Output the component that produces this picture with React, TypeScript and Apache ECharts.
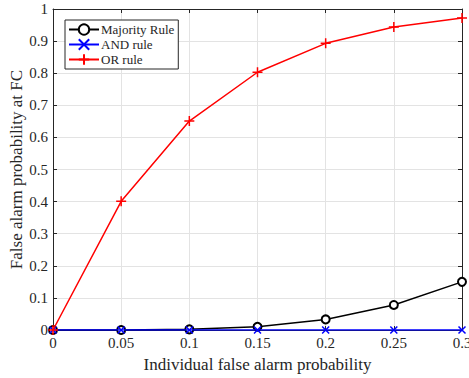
import React, { useEffect, useRef } from "react";
import * as echarts from "echarts";

const xValues = [0, 0.05, 0.1, 0.15, 0.2, 0.25, 0.3];
const majorityRule = [0, 0, 0.002, 0.01, 0.033, 0.078, 0.15];
const andRule = [0, 0, 0, 0, 0, 0, 0];
const orRule = [0, 0.401, 0.651, 0.803, 0.893, 0.944, 0.972];
const seriesNames = ["Majority Rule", "AND rule", "OR rule"];

const FONT = "'Liberation Serif', 'Times New Roman', serif";
const TXT = "#262626";

const fmt = (v: number) => String(parseFloat(v.toFixed(3)));

export default function App() {
  const ref = useRef<HTMLDivElement>(null);
  useEffect(() => {
    if (!ref.current) return;
    const chart = echarts.init(ref.current, undefined, { renderer: "svg" });
    const pairs = (ys: number[]) => xValues.map((x, i) => [x, ys[i]]);
    const baseAxis = {
      type: "value" as const,
      axisLine: { show: true, onZero: false, lineStyle: { color: TXT, width: 1 } },
      axisTick: { show: true, inside: true, length: 4, lineStyle: { color: TXT } },
    };
    chart.setOption({
      animation: false,
      backgroundColor: "#fff",
      textStyle: { fontFamily: FONT },
      grid: { left: 53, right: 7, top: 9, bottom: 48, containLabel: false, outerBoundsMode: "none" },
      legend: {
        orient: "vertical",
        left: 65,
        top: 20,
        data: seriesNames,
        backgroundColor: "#fff",
        borderColor: TXT,
        borderWidth: 1,
        borderRadius: 0,
        padding: [3, 4, 3, 3],
        itemGap: 2,
        itemWidth: 30,
        itemHeight: 13,
        textStyle: { fontFamily: FONT, fontSize: 13, color: TXT, padding: [0, 0, 0, -3] },
      },
      xAxis: [
        {
          ...baseAxis,
          min: 0,
          max: 0.3,
          interval: 0.05,
          name: "Individual false alarm probability",
          nameLocation: "middle",
          nameGap: 26,
          nameMoveOverlap: false,
          nameTextStyle: { fontFamily: FONT, fontSize: 17, color: TXT },
          axisLabel: { fontFamily: FONT, fontSize: 15, color: TXT, margin: 5, formatter: fmt },
          splitLine: { show: true, lineStyle: { color: "#e3e3e3", width: 1 } },
        },
        {
          ...baseAxis,
          position: "top",
          min: 0,
          max: 0.3,
          interval: 0.05,
          axisLabel: { show: false },
          splitLine: { show: false },
        },
      ],
      yAxis: [
        {
          ...baseAxis,
          min: 0,
          max: 1,
          interval: 0.1,
          name: "False alarm probability at FC",
          nameLocation: "middle",
          nameGap: 28,
          nameMoveOverlap: false,
          nameTextStyle: { fontFamily: FONT, fontSize: 17, color: TXT },
          axisLabel: { fontFamily: FONT, fontSize: 15, color: TXT, margin: 5, formatter: fmt },
          splitLine: { show: true, lineStyle: { color: "#e3e3e3", width: 1 } },
        },
        {
          ...baseAxis,
          position: "right",
          min: 0,
          max: 1,
          interval: 0.1,
          axisLabel: { show: false },
          splitLine: { show: false },
        },
      ],
      series: [
        {
          name: seriesNames[0],
          type: "line",
          data: pairs(majorityRule),
          symbol: "emptyCircle",
          symbolSize: 8,
          lineStyle: { color: "#000", width: 1.5 },
          itemStyle: { color: "#000", borderColor: "#000", borderWidth: 1.3 },
          z: 2,
        },
        {
          name: seriesNames[1],
          type: "line",
          data: pairs(andRule),
          symbol: "path://M0,0L10,10M10,0L0,10",
          symbolSize: 7,
          lineStyle: { color: "#0000ff", width: 1.5 },
          itemStyle: { color: "#0000ff", borderColor: "#0000ff", borderWidth: 1.5 },
          z: 3,
        },
        {
          name: seriesNames[2],
          type: "line",
          data: pairs(orRule),
          symbol: "path://M5,0L5,10M0,5L10,5",
          symbolSize: 10,
          lineStyle: { color: "#ff0000", width: 1.5 },
          itemStyle: { color: "#ff0000", borderColor: "#ff0000", borderWidth: 1.5 },
          z: 4,
        },
      ],
    });
    return () => chart.dispose();
  }, []);
  return <div ref={ref} style={{ width: 469, height: 378, position: "absolute", left: 0, top: 0 }} />;
}
